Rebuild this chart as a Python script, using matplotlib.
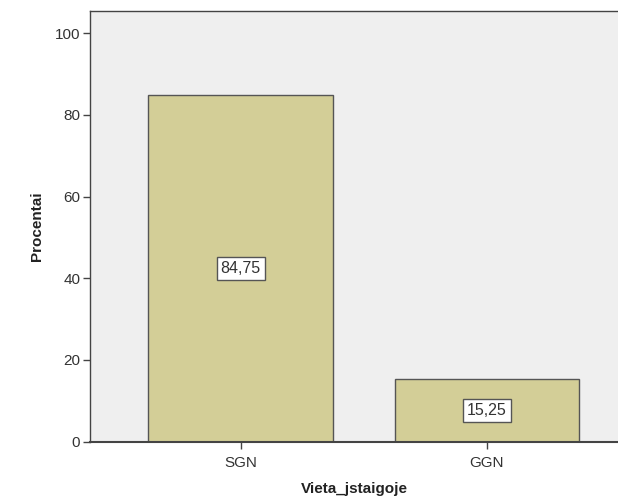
import matplotlib
matplotlib.use("Agg")
import matplotlib.pyplot as plt

categories = ["SGN", "GGN"]
values = [84.75, 15.25]
labels = ["84,75", "15,25"]
yticks = [0, 20, 40, 60, 80, 100]

plt.rcParams['font.family'] = ['Liberation Sans', 'DejaVu Sans']

fig = plt.figure(figsize=(6.18, 5.0), dpi=100)
ax = fig.add_axes([90/618, (500-441.7)/500, (618-90)/618, (441.7-11)/500])
ax.set_facecolor('#EFEFEF')

x = list(range(len(categories)))
ax.bar(x, values, width=0.75, color='#D3CE97', edgecolor='#555555', linewidth=1.0, zorder=2)
for xi, v, lab in zip(x, values, labels):
    ax.text(xi, v/2, lab, ha='center', va='center', fontsize=11.5, color='#333333', zorder=3,
            bbox=dict(boxstyle='square,pad=0.25', facecolor='white', edgecolor='#555555', linewidth=1.0))

ax.set_xlim(-0.612, 1.532)
ax.set_ylim(0, 105.4)
ax.set_xticks(x)
ax.set_xticklabels(categories)
ax.set_yticks(yticks)

for s in ['left', 'top', 'bottom']:
    ax.spines[s].set_color('#444444')
    ax.spines[s].set_linewidth(1.0)
ax.spines['right'].set_visible(False)
ax.spines['bottom'].set_linewidth(1.5)

ax.tick_params(axis='both', direction='out', length=5, width=1, color='#444444',
               labelsize=11, labelcolor='#333333', pad=2)
ax.tick_params(axis='x', pad=5)

ax.set_ylabel('Procentai', fontsize=11, fontweight='bold', color='#222222', labelpad=8)
ax.set_xlabel('Vieta_jstaigoje', fontsize=11, fontweight='bold', color='#222222', labelpad=9)

fig.savefig('out.png', dpi=100)
